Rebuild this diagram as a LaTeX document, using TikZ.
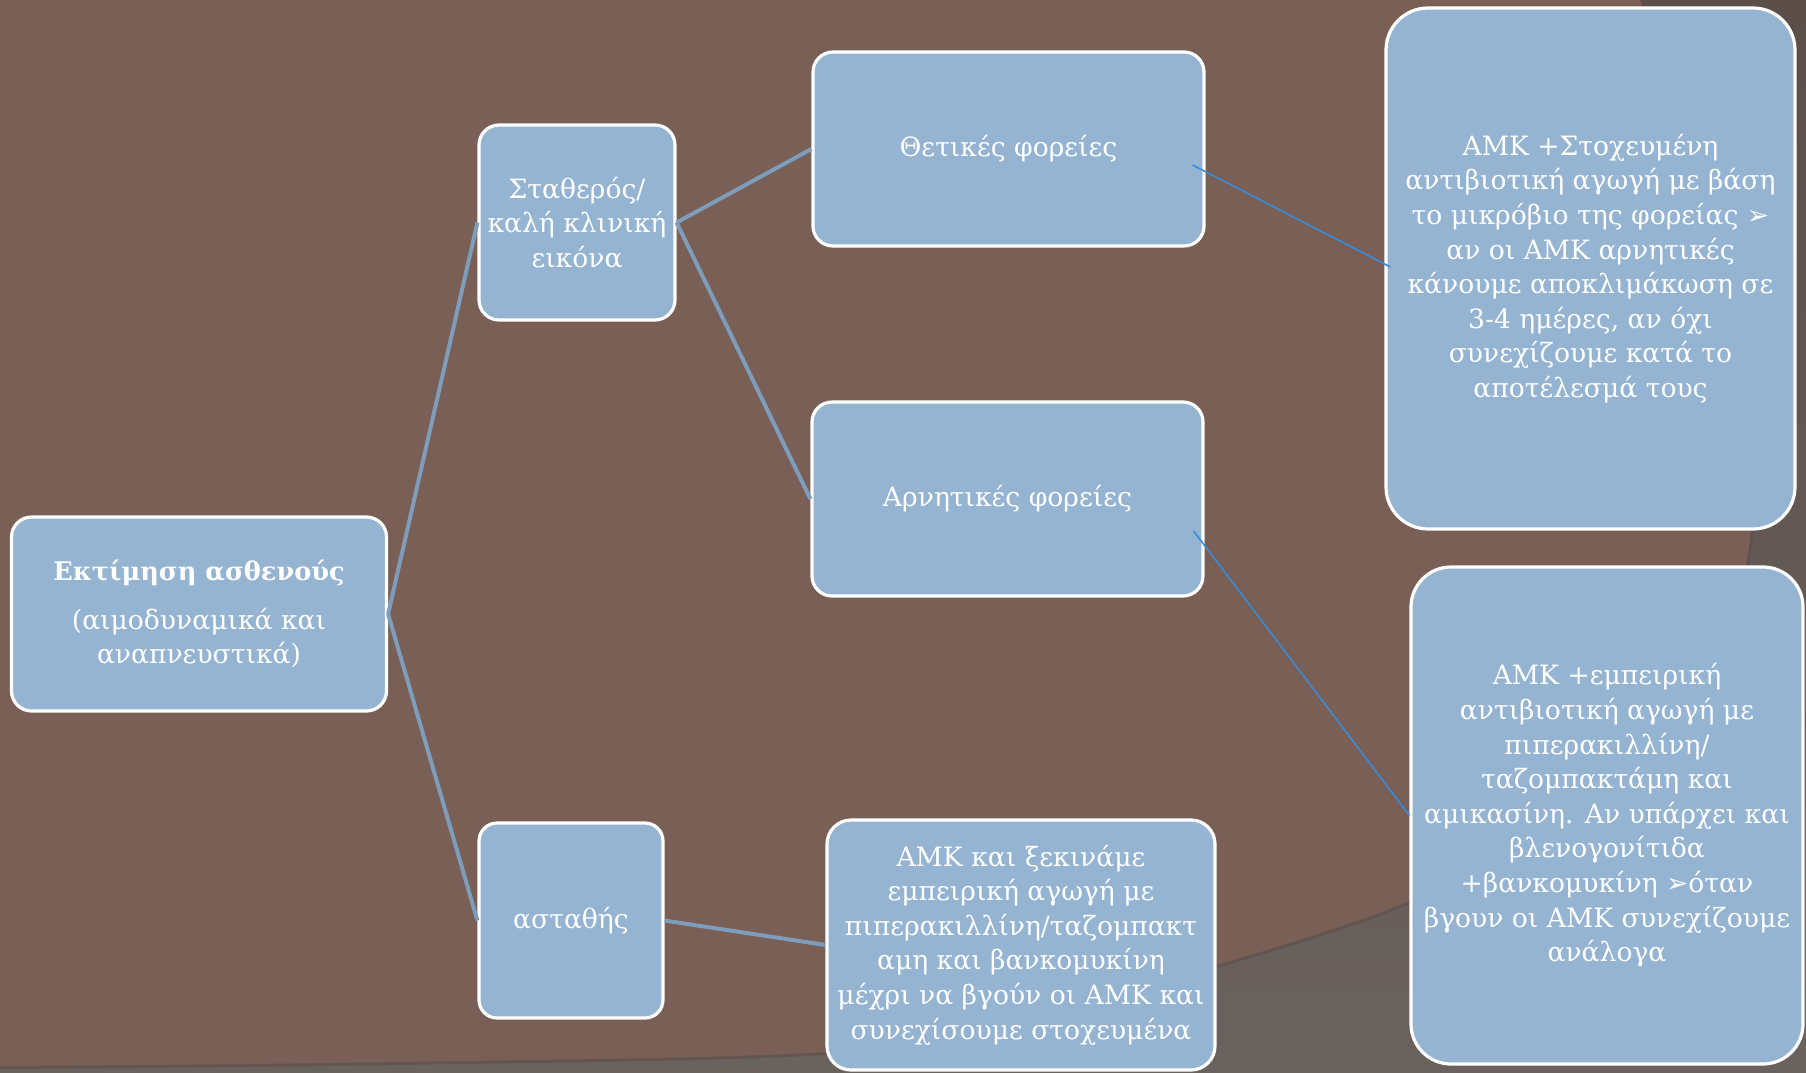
\documentclass[tikz,border=0pt]{standalone}
\usepackage{fontspec}
\setmainfont{DejaVu Serif}
\newfontfamily\symfont{DejaVu Sans}
\usetikzlibrary{calc}
\definecolor{brownbg}{HTML}{795F55}
\definecolor{darktop}{HTML}{5C4F4A}
\definecolor{darkbot}{HTML}{6A625E}
\definecolor{edgebrown}{HTML}{5E4A43}
\definecolor{boxfill}{HTML}{95B4D1}
\definecolor{linkcol}{HTML}{7D9DBA}
\definecolor{thinblue}{HTML}{3A8CD7}
\begin{document}
\begin{tikzpicture}[x=0.5pt,y=-0.5pt,
  box/.style={draw=white, line width=1.6pt, fill=boxfill, text=white,
    align=center, inner sep=0pt, font=\fontsize{13.3}{17.3}\selectfont},
  sz/.style 2 args={minimum width=#1*0.5pt, minimum height=#2*0.5pt},
  thick link/.style={draw=linkcol, line width=2pt},
  thin link/.style={draw=thinblue, line width=0.8pt}]
\useasboundingbox (0,0) rectangle (1806,1072);
% background
\shade[top color=darktop, bottom color=darkbot] (0,0) rectangle (1806,1072);
\draw[edgebrown, line width=3pt, opacity=0.5] plot[smooth, tension=0.6] coordinates {(1640,0) (1725,250) (1752,520) (1690,700) (1560,830) (1400,905) (1217,965) (1000,1025) (827,1052) (400,1062) (0,1066)};
\fill[brownbg] (0,0) -- plot[smooth, tension=0.6] coordinates {(1640,0) (1725,250) (1752,520) (1690,700) (1560,830) (1400,905) (1217,965) (1000,1025) (827,1052) (400,1062) (0,1066)} -- cycle;

% nodes
\node[box, sz={375}{194}, rounded corners=10pt] (root) at (199,614)
  {{\fontsize{12.8}{17.3}\selectfont\bfseries Εκτίμηση ασθενούς}\\[6.9pt](αιμοδυναμικά και\\αναπνευστικά)};
\node[box, sz={196}{195}, rounded corners=10pt] (stab) at (577,222.5)
  {Σταθερός/\\καλή κλινική\\εικόνα};
\node[box, sz={184}{195}, rounded corners=9pt] (unst) at (571,920.5)
  {ασταθής};
\node[box, sz={391}{194}, rounded corners=10pt] (pos) at (1008.5,149)
  {Θετικές φορείες};
\node[box, sz={391}{194}, rounded corners=10pt] (neg) at (1007.5,499)
  {Αρνητικές φορείες};
\node[box, sz={388}{250}, rounded corners=12pt] (amk) at (1021,945)
  {ΑΜΚ και ξεκινάμε\\εμπειρική αγωγή με\\πιπερακιλλίνη/ταζομπακτ\\αμη και βανκομυκίνη\\μέχρι να βγούν οι ΑΜΚ και\\συνεχίσουμε στοχευμένα};
\node[box, sz={409}{521}, rounded corners=21pt] (tr) at (1590.5,268.5)
  {ΑΜΚ +Στοχευμένη\\αντιβιοτική αγωγή με βάση\\το μικρόβιο της φορείας {\symfont ➢}\\αν οι ΑΜΚ αρνητικές\\κάνουμε αποκλιμάκωση σε\\3-4 ημέρες, αν όχι\\συνεχίζουμε κατά το\\αποτέλεσμά τους};
\node[box, sz={392}{497}, rounded corners=20pt] (br) at (1607,815.5)
  {ΑΜΚ +εμπειρική\\αντιβιοτική αγωγή με\\πιπερακιλλίνη/\\ταζομπακτάμη και\\αμικασίνη. Αν υπάρχει και\\βλενογονίτιδα\\+βανκομυκίνη {\symfont ➢}όταν\\βγουν οι ΑΜΚ συνεχίζουμε\\ανάλογα};

% connectors
\draw[thick link] (root.east) -- (stab.west);
\draw[thick link] (root.east) -- (unst.west);
\draw[thick link] (stab.east) -- (pos.west);
\draw[thick link] (stab.east) -- (neg.west);
\draw[thick link] (unst.east) -- (amk.west);
\draw[thin link] ($(pos.east)+(-13,16)$) -- ($(tr.west)+(6,-1.5)$);
\draw[thin link] ($(neg.east)+(-11,32)$) -- (br.west);
\end{tikzpicture}
\end{document}
